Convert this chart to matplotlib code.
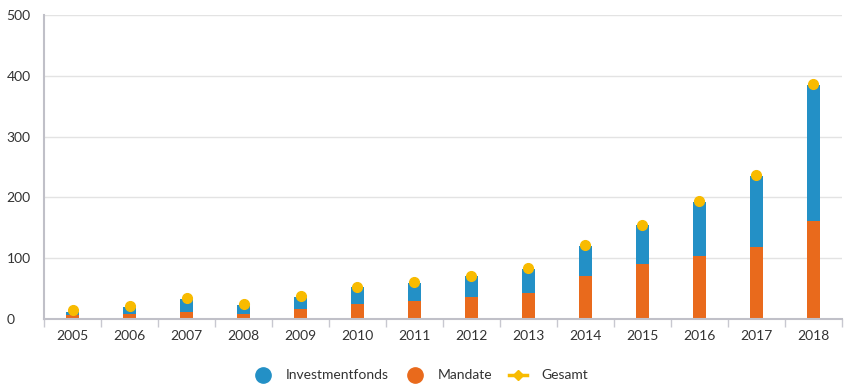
import matplotlib
matplotlib.use("Agg")
import matplotlib.pyplot as plt
from matplotlib.lines import Line2D
import numpy as np

years = ["2005", "2006", "2007", "2008", "2009", "2010", "2011", "2012", "2013",
         "2014", "2015", "2016", "2017", "2018"]
mandate = [6, 9, 12, 9, 16, 24, 29, 36, 42, 70, 90, 104, 118, 162]
investmentfonds = [6, 10, 21, 14, 21, 28, 31, 34, 40, 50, 64, 89, 117, 223]
gesamt = [14, 21, 35, 24, 38, 53, 61, 71, 84, 121, 155, 194, 237, 386]
yticks = [0, 100, 200, 300, 400, 500]

blue = "#2390c6"
orange = "#e96a1c"
gold = "#f8bb00"
plt.rcParams['font.family'] = ['Lato', 'DejaVu Sans']

fig = plt.figure(figsize=(8.47, 3.87), dpi=100)
ax = fig.add_axes([0.052, 0.1757, 0.942, 0.7853])
x = np.arange(len(years))
w = 0.22
ax.bar(x, mandate, width=w, color=orange, zorder=2)
ax.bar(x, investmentfonds, width=w, bottom=mandate, color=blue, zorder=2)
ax.plot(x, gesamt, linestyle="none", marker="o", markersize=7, color=gold, zorder=3)

ax.set_xlim(-0.5, len(years) - 0.5)
ax.set_ylim(0, 500)
ax.set_yticks(yticks)
ax.set_yticklabels([str(v) for v in yticks])
ax.set_xticks(x)
ax.set_xticklabels(years)
ax.set_xticks(np.arange(-0.5, len(years), 1), minor=True)
ax.tick_params(axis="x", which="major", length=0, pad=8, labelsize=10, labelcolor="#333333")
ax.tick_params(axis="x", which="minor", length=6, color="#c8c8d0", width=1)
ax.tick_params(axis="y", length=0, pad=27, labelsize=10, labelcolor="#333333")
ax.grid(axis="y", color="#e3e3e3", linewidth=1, zorder=0)
ax.set_axisbelow(True)
for s in ["top", "right"]:
    ax.spines[s].set_visible(False)
ax.spines["left"].set_color("#c0c0c8")
ax.spines["left"].set_linewidth(1.5)
ax.spines["bottom"].set_color("#c0c0c8")
ax.spines["bottom"].set_linewidth(1.5)
for lbl in ax.get_yticklabels():
    lbl.set_horizontalalignment("left")

handles = [
    Line2D([], [], linestyle="none", marker="o", markersize=11, color=blue),
    Line2D([], [], linestyle="none", marker="o", markersize=11, color=orange),
    Line2D([], [], linestyle="-", linewidth=2.5, marker="D", markersize=5, color=gold),
]
fig.legend(handles, ["Investmentfonds", "Mandate", "Gesamt"], loc="center",
           bbox_to_anchor=(0.497, 0.03), ncol=3, frameon=False, fontsize=10,
           handlelength=1.3, columnspacing=1.2, handletextpad=1.0,
           labelcolor="#333333")
fig.savefig("out.png", dpi=100)
